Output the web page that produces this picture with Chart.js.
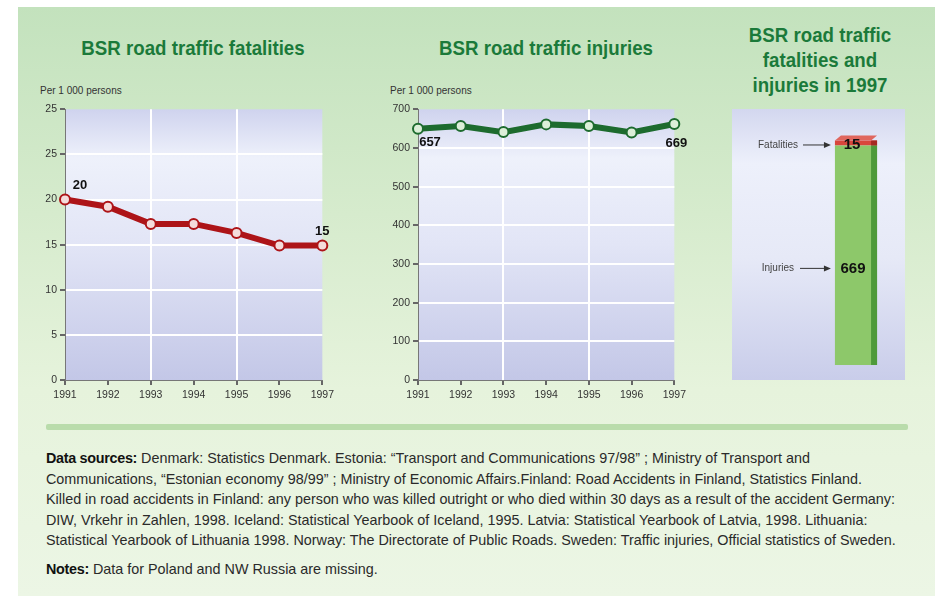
<!DOCTYPE html>
<html>
<head>
<meta charset="utf-8">
<script src="https://cdn.jsdelivr.net/npm/chart.js@4.4.0/dist/chart.umd.min.js"></script>
<style>
  html, body { margin: 0; padding: 0; background: #fff; }
  body { width: 935px; height: 596px; position: relative; overflow: hidden; font-family: "Liberation Sans", Arial, sans-serif; }
  #panel {
    position: absolute; left: 18px; top: 7px; width: 917px; height: 589px;
    background: linear-gradient(to bottom, #c3e2bd 0%, #d6ebcd 35%, #e6f3dc 65%, #ecf6e5 100%);
  }
  .title {
    position: absolute; color: #1b7a3a; font-weight: bold; font-size: 21px;
    white-space: nowrap; text-align: center; transform: scaleX(0.89); transform-origin: center;
    line-height: 25px;
  }
  .unit { position: absolute; font-size: 10px; color: #333; white-space: nowrap; }
  canvas { position: absolute; }
  #sep { position: absolute; left: 46px; top: 424px; width: 862px; height: 6px; background: #b9dcab; border-radius: 2px; }
  #notes { position: absolute; left: 46px; top: 448px; font-size: 14.5px; color: #2a2a2a; line-height: 20.5px; white-space: nowrap;
    transform: scaleX(0.99); transform-origin: left top; }
  #notes b { color: #111; letter-spacing: -0.3px; }
  #box3 { position: absolute; left: 732px; top: 109px; width: 173px; height: 271px;
    background: linear-gradient(to bottom, #d3d7ef 0%, #edf0fb 20%, #e6e9f7 55%, #c9cdea 100%); }
</style>
</head>
<body>
<div id="panel"></div>
<div class="title" style="left:43px; top:35px; width:300px;">BSR road traffic fatalities</div>
<div class="title" style="left:396px; top:35px; width:300px;">BSR road traffic injuries</div>
<div class="title" style="left:720px; top:22px; width:200px;">BSR road traffic<br>fatalities and<br>injuries in 1997</div>
<div class="unit" style="left:40px; top:85px;">Per 1 000 persons</div>
<div class="unit" style="left:390px; top:85px;">Per 1 000 persons</div>

<canvas id="fatal" width="310" height="308" style="left:28px; top:100px;"></canvas>
<canvas id="injur" width="309" height="308" style="left:381px; top:100px;"></canvas>
<div id="box3"></div>
<canvas id="both" width="173" height="271" style="left:732px; top:109px;"></canvas>

<div id="sep"></div>
<div id="notes">
<b>Data sources:</b> Denmark: Statistics Denmark. Estonia: “Transport and Communications 97/98” ; Ministry of Transport and<br>
Communications, “Estonian economy 98/99” ; Ministry of Economic Affairs.Finland: Road Accidents in Finland, Statistics Finland.<br>
Killed in road accidents in Finland: any person who was killed outright or who died within 30 days as a result of the accident Germany:<br>
DIW, Vrkehr in Zahlen, 1998. Iceland: Statistical Yearbook of Iceland, 1995. Latvia: Statistical Yearbook of Latvia, 1998. Lithuania:<br>
Statistical Yearbook of Lithuania 1998. Norway: The Directorate of Public Roads. Sweden: Traffic injuries, Official statistics of Sweden.<br>
<div style="height:8px"></div>
<b>Notes:</b> Data for Poland and NW Russia are missing.
</div>

<script>
// data
const years = ['1991', '1992', '1993', '1994', '1995', '1996', '1997'];
const fatalities = [20, 19.2, 17.3, 17.3, 16.3, 14.9, 14.9];
const injuries = [650, 657, 641, 661, 657, 640, 662];
const fatalTicks = ['0', '5', '10', '15', '20', '25', '25'];
const injurTicks = ['0', '100', '200', '300', '400', '500', '600', '700'];
const fatalNotes = ['20', '15'];       // labels shown at first / last point
const injurNotes = ['657', '669'];
const bar1997 = { categories: ['1997'], injuries: [669], fatalities: [15] };

// plot area background
const plotBg = {
  id: 'plotBg',
  beforeDraw(chart) {
    const a = chart.chartArea, ctx = chart.ctx;
    const g = ctx.createLinearGradient(0, a.top, 0, a.bottom);
    g.addColorStop(0, '#cfd3ee');
    g.addColorStop(0.18, '#eef1fb');
    g.addColorStop(0.5, '#e2e5f6');
    g.addColorStop(1, '#c3c7e7');
    ctx.save();
    ctx.fillStyle = g;
    ctx.fillRect(a.left, a.top, a.right - a.left, a.bottom - a.top);
    ctx.restore();
  }
};

// value text at first and last point
const endLabels = {
  id: 'endLabels',
  afterDatasetsDraw(chart, args, opts) {
    const pts = chart.getDatasetMeta(0).data;
    const ctx = chart.ctx;
    ctx.save();
    ctx.font = 'bold 13px "Liberation Sans", Arial, sans-serif';
    ctx.fillStyle = '#111';
    ctx.textAlign = 'center';
    ctx.textBaseline = 'middle';
    const first = pts[0], last = pts[pts.length - 1];
    ctx.fillText(opts.texts[0], first.x + opts.first[0], first.y + opts.first[1]);
    ctx.fillText(opts.texts[1], last.x + opts.last[0], last.y + opts.last[1]);
    ctx.restore();
  }
};

function lineChart(id, values, ticks, max, step, color, pointFill, notes, firstOff, lastOff) {
  return new Chart(document.getElementById(id), {
    type: 'line',
    data: {
      labels: years,
      datasets: [{
        data: values,
        borderColor: color,
        borderWidth: 6,
        pointRadius: 5,
        pointBorderWidth: 2,
        pointBackgroundColor: pointFill,
        pointBorderColor: color,
        tension: 0
      }]
    },
    options: {
      responsive: false,
      animation: false,
      layout: { padding: { left: 2, right: 15, top: 9, bottom: 0 } },
      plugins: {
        legend: { display: false },
        tooltip: { enabled: false },
        endLabels: { texts: notes, first: firstOff, last: lastOff }
      },
      scales: {
        x: {
          offset: false,
          afterFit(s) { s.height = 28; },
          grid: {
            color: ctx => (ctx.index === 2 || ctx.index === 4) ? '#ffffff' : 'rgba(0,0,0,0)',
            lineWidth: 2,
            tickColor: '#666',
            tickLength: 5
          },
          border: { display: true, color: '#777', width: 1 },
          ticks: { color: '#333', font: { size: 10.5 }, padding: 4, maxRotation: 0 }
        },
        y: {
          min: 0, max: max,
          afterFit(s) { s.width = 35; },
          grid: {
            color: ctx => ctx.index === 0 || ctx.index === ticks.length - 1 ? 'rgba(0,0,0,0)' : '#ffffff',
            lineWidth: 2,
            tickColor: '#666',
            tickLength: 5
          },
          border: { display: true, color: '#777', width: 1 },
          ticks: {
            stepSize: step,
            color: '#333',
            font: { size: 10.5 },
            padding: 3,
            callback: (v, i) => ticks[i]
          }
        }
      }
    },
    plugins: [plotBg, endLabels]
  });
}

lineChart('fatal', fatalities, fatalTicks, 30, 5, '#ad1418', '#f4dcdc', fatalNotes, [15, -14], [0, -14]);
lineChart('injur', injuries, injurTicks, 700, 100, '#1d6b2e', '#dcefd8', injurNotes, [12, 14], [2, 19]);

// 3D look, values and arrows on the 1997 bar
const barDeco = {
  id: 'barDeco',
  afterDatasetsDraw(chart) {
    const ctx = chart.ctx;
    const inj = chart.getDatasetMeta(0).data[0];
    const fat = chart.getDatasetMeta(1).data[0];
    const left = inj.x - inj.width / 2, right = inj.x + inj.width / 2;
    const d = 6;
    ctx.save();
    // side faces
    ctx.fillStyle = '#4e9a3a';
    ctx.fillRect(right - d, inj.y, d, inj.base - inj.y);
    ctx.fillStyle = '#a52a22';
    ctx.fillRect(right - d, fat.y, d, fat.base - fat.y);
    // top face
    ctx.fillStyle = '#e0675e';
    ctx.beginPath();
    ctx.moveTo(left, fat.y);
    ctx.lineTo(left + d, fat.y - 5);
    ctx.lineTo(right, fat.y - 5);
    ctx.lineTo(right - d, fat.y);
    ctx.closePath();
    ctx.fill();

    ctx.fillStyle = '#111';
    ctx.textAlign = 'center';
    ctx.textBaseline = 'middle';
    ctx.font = 'bold 15px "Liberation Sans", Arial, sans-serif';
    const fy = (fat.y + fat.base) / 2 + 2;
    ctx.fillText(bar1997.fatalities[0], inj.x - 4, fy);
    const iy = chart.scales.y.getPixelForValue(bar1997.injuries[0] * 0.44);
    ctx.fillText(bar1997.injuries[0], inj.x - 3, iy);

    // side labels with arrows
    ctx.font = '10px "Liberation Sans", Arial, sans-serif';
    ctx.fillStyle = '#444';
    ctx.textAlign = 'right';
    ctx.fillText('Fatalities', 66, fy);
    ctx.fillText('Injuries', 62, iy);
    ctx.strokeStyle = '#333';
    ctx.fillStyle = '#333';
    ctx.lineWidth = 1;
    [[71, fy], [68, iy]].forEach(([x0, y]) => {
      ctx.beginPath();
      ctx.moveTo(x0, y);
      ctx.lineTo(left - 10, y);
      ctx.stroke();
      ctx.beginPath();
      ctx.moveTo(left - 4, y);
      ctx.lineTo(left - 11, y - 3);
      ctx.lineTo(left - 11, y + 3);
      ctx.closePath();
      ctx.fill();
    });
    ctx.restore();
  }
};

new Chart(document.getElementById('both'), {
  type: 'bar',
  data: {
    labels: bar1997.categories,
    datasets: [
      { label: 'Injuries', data: bar1997.injuries, backgroundColor: '#8dc86a', borderWidth: 0 },
      { label: 'Fatalities', data: bar1997.fatalities, backgroundColor: '#d8463c', borderWidth: 0 }
    ]
  },
  options: {
    responsive: false,
    animation: false,
    layout: { padding: { left: 75, right: 0, top: 0, bottom: 15 } },
    datasets: { bar: { barPercentage: 0.43, categoryPercentage: 1 } },
    plugins: { legend: { display: false }, tooltip: { enabled: false } },
    scales: {
      x: { stacked: true, display: false },
      y: { stacked: true, display: false, min: 0, max: 780 }
    }
  },
  plugins: [barDeco]
});
</script>
</body>
</html>
